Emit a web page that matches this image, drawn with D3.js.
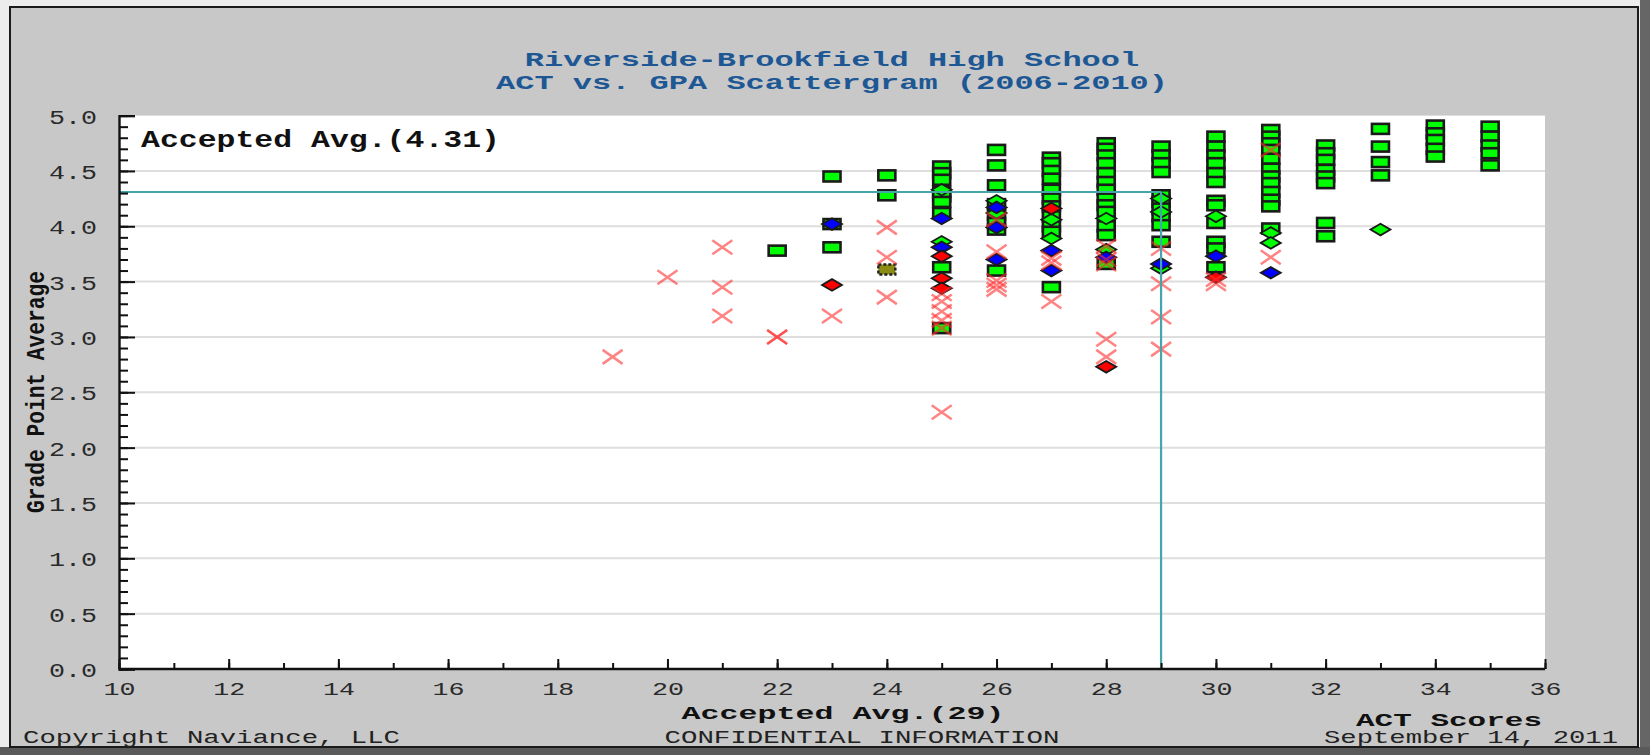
<!DOCTYPE html>
<html>
<head>
<meta charset="utf-8">
<script src="https://cdn.jsdelivr.net/npm/d3@7"></script>
<style>
  html, body { margin: 0; padding: 0; background: #ffffff; }
  svg { display: block; }
</style>
</head>
<body>
<svg id="chart" width="1650" height="755"></svg>
<script>
// ---------------- DATA ----------------
const titleLines = ["Riverside-Brookfield High School", "ACT vs. GPA Scattergram (2006-2010)"];
const xTickValues = [10, 12, 14, 16, 18, 20, 22, 24, 26, 28, 30, 32, 34, 36];
const yTickValues = [0, 0.5, 1, 1.5, 2, 2.5, 3, 3.5, 4, 4.5, 5];
const acceptedAvgACT = 29;
const acceptedAvgGPA = 4.31;

// Accepted (green squares) [ACT, GPA]
const accepted = [
  [22,3.78],
  [23,4.45],[23,4.02],[23,3.81],
  [24,4.46],[24,4.28],
  [25,4.54],[25,4.48],[25,4.42],[25,4.31],[25,4.27],[25,4.22],[25,4.12],[25,3.63],[25,3.08],
  [26,4.69],[26,4.55],[26,4.37],[26,4.20],[26,4.10],[26,4.03],[26,3.97],[26,3.60],
  [27,4.62],[27,4.57],[27,4.50],[27,4.43],[27,4.33],[27,4.25],[27,4.18],[27,4.09],[27,4.00],[27,3.95],[27,3.45],
  [28,4.75],[28,4.70],[28,4.64],[28,4.57],[28,4.48],[28,4.40],[28,4.33],[28,4.25],[28,4.19],[28,4.13],[28,4.00],[28,3.92],[28,3.66],
  [29,4.72],[29,4.64],[29,4.57],[29,4.49],[29,4.28],[29,4.22],[29,4.16],[29,4.09],[29,4.01],[29,3.86],
  [30,4.81],[30,4.72],[30,4.64],[30,4.57],[30,4.48],[30,4.40],[30,4.23],[30,4.19],[30,4.03],[30,3.86],[30,3.80],[30,3.63],
  [31,4.87],[31,4.81],[31,4.75],[31,4.69],[31,4.61],[31,4.52],[31,4.45],[31,4.39],[31,4.31],[31,4.24],[31,4.18],[31,3.98],
  [32,4.73],[32,4.66],[32,4.60],[32,4.51],[32,4.45],[32,4.39],[32,4.03],[32,3.91],
  [33,4.88],[33,4.72],[33,4.58],[33,4.46],
  [34,4.91],[34,4.84],[34,4.78],[34,4.70],[34,4.63],
  [35,4.90],[35,4.81],[35,4.73],[35,4.66],[35,4.55]
];

// Deferred / other (olive squares)
const deferred = [[24,3.61]];

// Waitlisted, later accepted (green diamonds)
const waitlistAccepted = [
  [25,4.33],[25,3.86],
  [26,4.23],[26,4.12],
  [27,4.06],[27,3.89],
  [28,4.07],[28,3.79],
  [29,4.25],[29,4.13],[29,3.62],
  [30,4.09],
  [31,3.94],[31,3.85],
  [33,3.97]
];

// Waitlisted (blue diamonds)
const waitlisted = [
  [23,4.02],
  [25,4.07],[25,3.81],
  [26,4.17],[26,3.99],[26,3.70],
  [27,3.78],[27,3.60],
  [28,3.72],
  [29,3.66],
  [30,3.73],
  [31,3.58]
];

// Waitlisted, later denied (red diamonds)
const waitlistDenied = [
  [23,3.47],
  [25,3.73],[25,3.53],[25,3.44],
  [27,4.16],
  [28,2.73],
  [30,3.54]
];

// Denied (red crosses)
const denied = [
  [19,2.82],
  [20,3.54],
  [21,3.81],[21,3.45],[21,3.19],
  [22,3.00],[22,3.00],
  [23,3.19],
  [24,3.99],[24,3.72],[24,3.36],
  [25,3.39],[25,3.32],[25,3.23],[25,3.15],[25,3.08],[25,2.32],
  [26,4.06],[26,3.77],[26,3.51],[26,3.47],[26,3.43],
  [27,3.71],[27,3.67],[27,3.32],
  [28,3.82],[28,3.70],[28,3.66],[28,2.98],[28,2.82],
  [29,3.80],[29,3.48],[29,3.18],[29,2.89],
  [30,3.52],[30,3.48],
  [31,4.69],[31,3.72]
];

// ---------------- CHART ----------------
const svg = d3.select("#chart");
const W = 1650, H = 755;

// page background + frame
svg.append("rect").attr("x", 0).attr("y", 0).attr("width", W).attr("height", H).attr("fill", "#ececec");
svg.append("rect").attr("x", 1640).attr("y", 0).attr("width", 10).attr("height", H).attr("fill", "#666");
svg.append("rect").attr("x", 0).attr("y", 747).attr("width", W).attr("height", 8).attr("fill", "#5a5a5a");
svg.append("rect").attr("x", 10).attr("y", 7).attr("width", 1628).attr("height", 740)
  .attr("fill", "#c8c8c8").attr("stroke", "#1a1a1a").attr("stroke-width", 2);

const x = d3.scaleLinear().domain([10, 36]).range([119, 1545]);
const y = d3.scaleLinear().domain([0, 5]).range([669, 115.6]);

const mono = "'Liberation Mono', 'DejaVu Sans Mono', monospace";

// plot background
svg.append("rect").attr("x", x(10)).attr("y", y(5)).attr("width", x(36) - x(10)).attr("height", y(0) - y(5))
  .attr("fill", "#ffffff");

// grid lines
svg.append("g").selectAll("line").data(yTickValues.filter(v => v > 0 && v < 5)).join("line")
  .attr("x1", x(10)).attr("x2", x(36)).attr("y1", d => y(d)).attr("y2", d => y(d))
  .attr("stroke", "#dedede").attr("stroke-width", 2);

// title
svg.append("g").selectAll("text").data(titleLines).join("text")
  .attr("x", 832).attr("y", (d, i) => 66 + i * 23)
  .attr("text-anchor", "middle")
  .attr("font-family", mono).attr("font-weight", "bold").attr("font-size", 20)
  .attr("fill", "#1d5794")
  .attr("textLength", d => d.length * 19.2).attr("lengthAdjust", "spacingAndGlyphs")
  .text(d => d);

// ---------- markers ----------
const marks = svg.append("g");

marks.selectAll("rect.acc").data(accepted).join("rect").attr("class", "acc")
  .attr("x", d => x(d[0]) - 8.5).attr("y", d => y(d[1]) - 5)
  .attr("width", 17).attr("height", 10)
  .attr("fill", "#00ff00").attr("stroke", "#1a1a1a").attr("stroke-width", 2.6);

marks.selectAll("rect.def").data(deferred).join("rect").attr("class", "def")
  .attr("x", d => x(d[0]) - 8.5).attr("y", d => y(d[1]) - 5)
  .attr("width", 17).attr("height", 10)
  .attr("fill", "#8c8c14").attr("stroke", "#222").attr("stroke-width", 2.4)
  .attr("stroke-dasharray", "3,2");

const diamond = "M-10,0L0,-5.8L10,0L0,5.8Z";
function drawDiamonds(data, fill) {
  marks.append("g").selectAll("path").data(data).join("path")
    .attr("transform", d => `translate(${x(d[0])},${y(d[1])})`)
    .attr("d", diamond)
    .attr("fill", fill).attr("stroke", "#1a1a1a").attr("stroke-width", 1.8);
}
drawDiamonds(waitlistAccepted, "#00ff00");
drawDiamonds(waitlisted, "#0000ff");
drawDiamonds(waitlistDenied, "#ff0000");

marks.append("g").selectAll("path").data(denied).join("path")
  .attr("transform", d => `translate(${x(d[0])},${y(d[1])})`)
  .attr("d", "M-10,-7L10,7M-10,7L10,-7")
  .attr("fill", "none").attr("stroke", "#ff3030").attr("stroke-opacity", 0.6).attr("stroke-width", 2.5);

// accepted average lines
svg.append("line")
  .attr("x1", x(10)).attr("x2", x(acceptedAvgACT))
  .attr("y1", y(acceptedAvgGPA)).attr("y2", y(acceptedAvgGPA))
  .attr("stroke", "#45a5a8").attr("stroke-width", 2);
svg.append("line")
  .attr("x1", x(acceptedAvgACT)).attr("x2", x(acceptedAvgACT))
  .attr("y1", y(acceptedAvgGPA)).attr("y2", y(0))
  .attr("stroke", "#45a5a8").attr("stroke-width", 2.2);

// ---------- axes ----------
function styleAxis(g) {
  g.select(".domain").attr("stroke", "#111").attr("stroke-width", 2.4);
  g.selectAll(".tick line").attr("stroke", "#111").attr("stroke-width", 2);
}

// Y minor ticks
svg.append("g").attr("transform", `translate(${x(10)},0)`)
  .call(d3.axisLeft(y).tickValues(d3.range(0, 51).map(i => i / 10)).tickSize(-9).tickFormat(""))
  .call(styleAxis)
  .call(g => g.select(".domain").remove());

// Y major
svg.append("g").attr("transform", `translate(${x(10)},0)`)
  .call(d3.axisLeft(y).tickValues(yTickValues).tickSize(-16).tickPadding(22).tickFormat(d3.format(".1f")))
  .call(styleAxis)
  .call(g => g.selectAll(".tick text")
    .attr("font-family", mono).attr("font-size", 21).attr("fill", "#2a2a2a")
    .attr("dy", "0.36em")
    .attr("textLength", 48).attr("lengthAdjust", "spacingAndGlyphs"));

// X minor ticks
svg.append("g").attr("transform", `translate(0,${y(0)})`)
  .call(d3.axisBottom(x).tickValues(d3.range(10, 37)).tickSize(-6).tickFormat(""))
  .call(styleAxis)
  .call(g => g.select(".domain").remove());

// X major
svg.append("g").attr("transform", `translate(0,${y(0)})`)
  .call(d3.axisBottom(x).tickValues(xTickValues).tickSize(-10).tickPadding(12.5).tickFormat(d3.format("d")))
  .call(styleAxis)
  .call(g => g.select(".domain").attr("d", `M${x(10)},0H${x(36)}`))
  .call(g => g.selectAll(".tick text")
    .attr("font-family", mono).attr("font-size", 19).attr("fill", "#2a2a2a")
    .attr("textLength", 32).attr("lengthAdjust", "spacingAndGlyphs"));

// axis titles
svg.append("text")
  .attr("transform", `translate(44,392) rotate(-90)`)
  .attr("text-anchor", "middle")
  .attr("font-family", mono).attr("font-weight", "bold").attr("font-size", 25).attr("fill", "#111")
  .attr("textLength", 242).attr("lengthAdjust", "spacingAndGlyphs")
  .text("Grade Point Average");

const accLabelY = `Accepted Avg.(${acceptedAvgGPA.toFixed(2)})`;
svg.append("text")
  .attr("x", 141).attr("y", 147)
  .attr("font-family", mono).attr("font-weight", "bold").attr("font-size", 23).attr("fill", "#111")
  .attr("textLength", 359).attr("lengthAdjust", "spacingAndGlyphs")
  .text(accLabelY);

const accLabelX = `Accepted Avg.(${acceptedAvgACT})`;
svg.append("text")
  .attr("x", 843).attr("y", 719).attr("text-anchor", "middle")
  .attr("font-family", mono).attr("font-weight", "bold").attr("font-size", 19).attr("fill", "#111")
  .attr("textLength", 323).attr("lengthAdjust", "spacingAndGlyphs")
  .text(accLabelX);

svg.append("text")
  .attr("x", 1542).attr("y", 726).attr("text-anchor", "end")
  .attr("font-family", mono).attr("font-weight", "bold").attr("font-size", 18).attr("fill", "#111")
  .attr("textLength", 186).attr("lengthAdjust", "spacingAndGlyphs")
  .text("ACT Scores");

// footer
const footer = [
  { t: "Copyright Naviance, LLC", x: 23, anchor: "start", w: 377 },
  { t: "CONFIDENTIAL INFORMATION", x: 862, anchor: "middle", w: 395 },
  { t: "September 14, 2011", x: 1618, anchor: "end", w: 294 }
];
svg.append("g").selectAll("text").data(footer).join("text")
  .attr("x", d => d.x).attr("y", 743).attr("text-anchor", d => d.anchor)
  .attr("font-family", mono).attr("font-size", 18).attr("fill", "#222")
  .attr("textLength", d => d.w).attr("lengthAdjust", "spacingAndGlyphs")
  .text(d => d.t);
</script>
</body>
</html>
